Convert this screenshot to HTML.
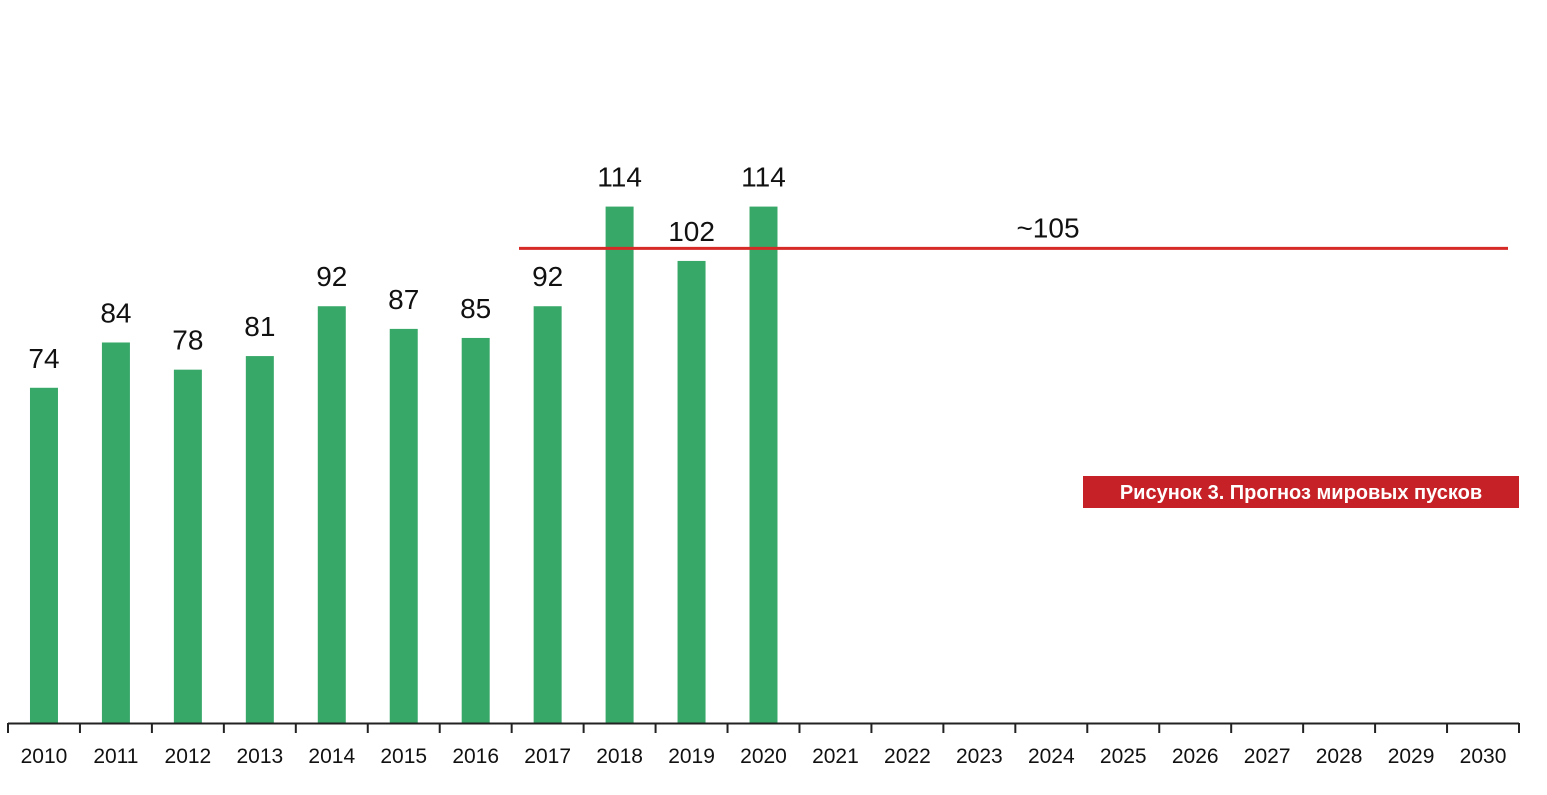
<!DOCTYPE html>
<html><head><meta charset="utf-8"><style>
body{margin:0;background:#fff;width:1547px;height:790px;overflow:hidden;font-family:"Liberation Sans",sans-serif}
</style></head><body>
<svg id="chart" width="1547" height="790" xmlns="http://www.w3.org/2000/svg"></svg>
<script>
const years=["2010","2011","2012","2013","2014","2015","2016","2017","2018","2019","2020","2021","2022","2023","2024","2025","2026","2027","2028","2029","2030"];
const launches=[74,84,78,81,92,87,85,92,114,102,114];
const forecastValue=105;
const forecastLabel="~105";
const forecastStartIndex=7;
const svg=document.getElementById('chart');
const NS='http://www.w3.org/2000/svg';
const x0=8,x1=1519,base=723,scale=4.53;
const step=(x1-x0)/years.length;
const xc=i=>x0+step*(i+0.5);
const y=v=>base-v*scale;
function mk(t,a){const e=document.createElementNS(NS,t);for(const k in a)e.setAttribute(k,a[k]);svg.appendChild(e);return e;}
launches.forEach((v,i)=>{
 const r=mk('rect',{x:xc(i)-14,y:y(v),width:28,height:base-y(v),fill:'#38a869'});
 
 
 const t=mk('text',{x:xc(i),y:y(v)-20,'text-anchor':'middle','font-size':28,fill:'#111'});
 t.textContent=v;
 
 
});
const ax=mk('line',{x1:x0,x2:x1,y1:base+0.5,y2:base+0.5,stroke:'#222','stroke-width':2});


for(let i=0;i<=years.length;i++){
 const tk=mk('line',{x1:x0+step*i,x2:x0+step*i,y1:base,y2:base+10,stroke:'#222','stroke-width':2});
 
 
}
years.forEach((yr,i)=>{
 const t=mk('text',{x:xc(i),y:763,'text-anchor':'middle','font-size':21,fill:'#111'});
 t.textContent=yr;
 
 
});
const fl=mk('line',{x1:519,x2:1508,y1:y(forecastValue)+1,y2:y(forecastValue)+1,stroke:'#d62a27','stroke-width':3});


const ft=mk('text',{x:1048,y:y(forecastValue)-10,'text-anchor':'middle','font-size':28,fill:'#111'});
ft.textContent=forecastLabel;


const bx=mk('rect',{x:1083,y:476,width:436,height:32,fill:'#c62126'});


const ct=mk('text',{x:1301,y:499,'text-anchor':'middle','font-size':20,'font-weight':'bold',fill:'#fff'});
ct.textContent='Рисунок 3. Прогноз мировых пусков';


</script>
</body></html>
